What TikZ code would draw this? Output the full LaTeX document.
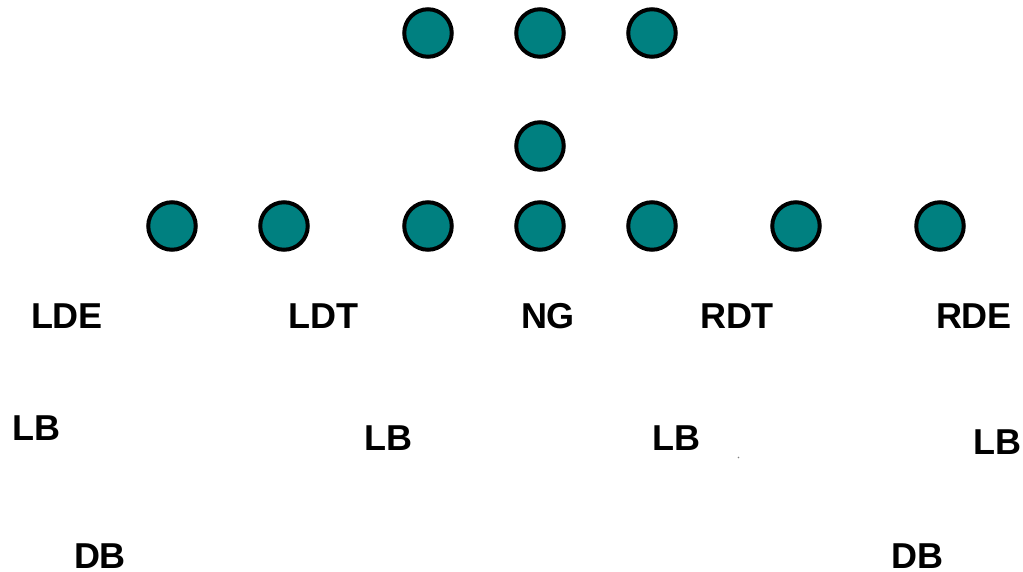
\documentclass[tikz,border=0pt]{standalone}
\usepackage{fontspec}
\setmainfont{Liberation Sans}
\definecolor{teal1}{HTML}{008080}
\begin{document}
\begin{tikzpicture}[x=1pt,y=-1pt,
  ball/.style={circle,draw=black,line width=4pt,fill=teal1,minimum size=47.5pt,inner sep=0pt},
  lbl/.style={font=\fontsize{36}{42}\selectfont\bfseries,inner sep=0pt,text depth=0pt,anchor=base}]
\useasboundingbox (0,0) rectangle (1023,571);
\node[ball] (t1) at (428,33) {};
\node[ball] (t2) at (540,33) {};
\node[ball] (t3) at (652,33) {};
\node[ball] (m) at (540,146) {};
\node[ball] (b1) at (172,226) {};
\node[ball] (b2) at (284,226) {};
\node[ball] (b3) at (428,226) {};
\node[ball] (b4) at (540,226) {};
\node[ball] (b5) at (652,226) {};
\node[ball] (b6) at (796,226) {};
\node[ball] (b7) at (940,226) {};
\node[lbl] (lde) at (67,328) {LDE};
\node[lbl] (ldt) at (323,328) {LDT};
\node[lbl] (ng) at (548,328) {NG};
\node[lbl] (rdt) at (737,328) {RDT};
\node[lbl] (rde) at (974,328) {RDE};
\node[lbl] (lb1) at (36,440) {LB};
\node[lbl] (lb2) at (388,450) {LB};
\node[lbl] (lb3) at (676,450) {LB};
\node[lbl] (lb4) at (997,454) {LB};
\node[lbl] (db1) at (100,568) {DB};
\node[lbl] (db2) at (917,568) {DB};
\fill[gray] (738.5,457.5) circle (0.8pt);
\end{tikzpicture}
\end{document}
